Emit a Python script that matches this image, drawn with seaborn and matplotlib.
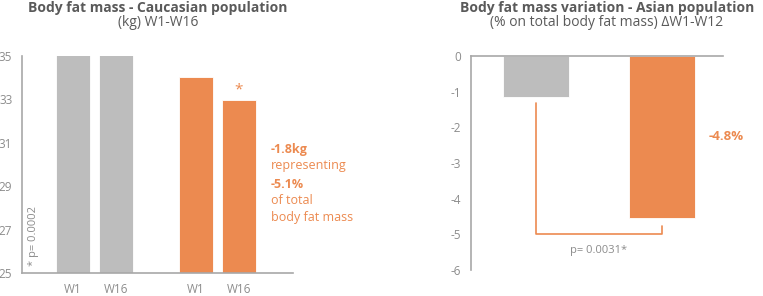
import matplotlib
matplotlib.use("Agg")
import matplotlib.pyplot as plt
import seaborn as sns
import pandas as pd

# ---- data ----
left_labels = ["W1", "W16", "W1", "W16"]
left_groups = ["Placebo", "Placebo", "Treatment", "Treatment"]
left_values = [35.2, 35.2, 34.05, 32.95]
left_positions = [0.0, 1.0, 2.86, 3.86]
left_yticks = [25, 27, 29, 31, 33, 35]

right_groups = ["Placebo", "Treatment"]
right_values = [-1.15, -4.55]
right_yticks = [0, -1, -2, -3, -4, -5, -6]

GRAY = "#BDBDBD"
ORANGE = "#EC8A50"
TXT = "#8C8C8C"
TITLE = "#5A5A5A"
AXC = "#A8A8A8"
FONT = "Open Sans"

sns.set_theme(style="white")
plt.rcParams["font.family"] = [FONT, "DejaVu Sans"]

W, H = 763, 296
fig = plt.figure(figsize=(W / 100, H / 100), dpi=100)

def px_axes(x0, x1, ytop, ybot):
    return fig.add_axes([x0 / W, (H - ybot) / H, (x1 - x0) / W, (ybot - ytop) / H])

palette = {"Placebo": GRAY, "Treatment": ORANGE}

# ---- left chart ----
ax1 = px_axes(22, 293, 56, 273)
df1 = pd.DataFrame({"pos": left_positions, "value": left_values, "group": left_groups})
sns.barplot(data=df1, x="pos", y="value", hue="group", palette=palette,
            native_scale=True, dodge=False, width=0.8, legend=False, ax=ax1,
            edgecolor="white", linewidth=0.6, saturation=1)
ax1.set_ylim(25, 35)
ax1.set_xlim(-1.19, 5.12)
ax1.set_yticks(left_yticks)
ax1.set_yticklabels([str(v) for v in left_yticks], color=TXT, fontsize=8.5)
ax1.set_xticks(left_positions)
ax1.set_xticklabels(left_labels, color=TXT, fontsize=8.5)
ax1.tick_params(axis="both", length=0, pad=7)
ax1.tick_params(axis="y", pad=7)
for s in ["top", "right"]:
    ax1.spines[s].set_visible(False)
for s in ["left", "bottom"]:
    ax1.spines[s].set_color(AXC)
    ax1.spines[s].set_linewidth(1.2)
ax1.set_xlabel("")
ax1.set_ylabel("")
ax1.text(-0.93, 25.3, "* p= 0.0002", rotation=90, color=TXT, fontsize=8,
         ha="center", va="bottom")
ax1.text(left_positions[3], left_values[3] + 0.15, "*", color=ORANGE, fontsize=11,
         ha="center", va="bottom")

ann_x = 271 / W
fig.text(ann_x, 1 - 149 / H, "-1.8kg", color=ORANGE, fontsize=9, fontweight="bold", va="center")
fig.text(ann_x, 1 - 166 / H, "representing", color=ORANGE, fontsize=9, va="center")
fig.text(ann_x, 1 - 184 / H, "-5.1%", color=ORANGE, fontsize=9, fontweight="bold", va="center")
fig.text(ann_x, 1 - 201 / H, "of total", color=ORANGE, fontsize=9, va="center")
fig.text(ann_x, 1 - 218 / H, "body fat mass", color=ORANGE, fontsize=9, va="center")

fig.text(158 / W, 1 - 8 / H, "Body fat mass - Caucasian population", color=TITLE,
         fontsize=10, fontweight="bold", ha="center", va="center")
fig.text(158 / W, 1 - 23 / H, "(kg) W1-W16", color=TITLE, fontsize=10,
         ha="center", va="center")

# ---- right chart ----
ax2 = px_axes(471, 723, 56, 270)
df2 = pd.DataFrame({"group": right_groups, "value": right_values})
sns.barplot(data=df2, x="group", y="value", hue="group", palette=palette,
            dodge=False, width=0.52, legend=False, ax=ax2,
            edgecolor="white", linewidth=0.6, saturation=1)
ax2.set_ylim(-6, 0)
ax2.set_xlim(-0.516, 1.484)
ax2.set_yticks(right_yticks)
ax2.set_yticklabels([str(v) for v in right_yticks], color=TXT, fontsize=8.5)
ax2.set_xticks([])
ax2.tick_params(axis="y", length=0, pad=7)
ax2.spines["right"].set_visible(False)
ax2.spines["bottom"].set_visible(False)
for s in ["left", "top"]:
    ax2.spines[s].set_color(AXC)
    ax2.spines[s].set_linewidth(1.2)
ax2.set_xlabel("")
ax2.set_ylabel("")
ax2.plot([0, 0, 1, 1], [-1.32, -5.0, -5.0, -4.78], color=ORANGE, lw=1.2, clip_on=False)
ax2.text(0.5, -5.45, "p= 0.0031*", color=TXT, fontsize=8, ha="center", va="center")
ax2.text(1.51, -2.25, "-4.8%", color=ORANGE, fontsize=9.5, fontweight="bold",
         ha="center", va="center")

fig.text(607 / W, 1 - 8 / H, "Body fat mass variation - Asian population", color=TITLE,
         fontsize=10, fontweight="bold", ha="center", va="center")
fig.text(607 / W, 1 - 23 / H, "(% on total body fat mass) \u0394W1-W12", color=TITLE,
         fontsize=10, ha="center", va="center")

fig.savefig("out.png", dpi=100)
